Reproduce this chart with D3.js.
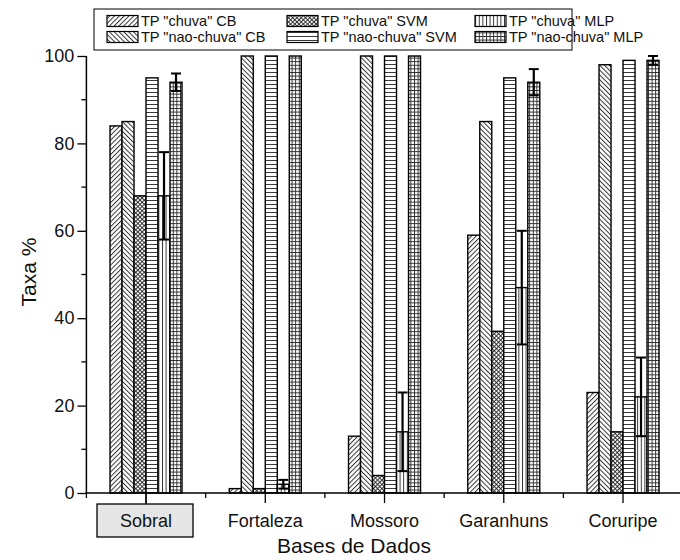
<!DOCTYPE html>
<html>
<head>
<meta charset="utf-8">
<script src="https://cdn.jsdelivr.net/npm/d3@7"></script>
<style>
  body { margin: 0; background: #fff; }
  svg { display: block; font-family: "Liberation Sans", Arial, sans-serif; }
</style>
</head>
<body>
<svg id="chart" width="680" height="560"></svg>
<script>
// data
var categories = ['Sobral', 'Fortaleza', 'Mossoro', 'Garanhuns', 'Coruripe'];
var seriesNames = ['TP "chuva" CB', 'TP "nao-chuva" CB', 'TP "chuva" SVM', 'TP "nao-chuva" SVM', 'TP "chuva" MLP', 'TP "nao-chuva" MLP'];
var chuvaCB = [84, 1, 13, 59, 23];
var naoChuvaCB = [85, 100, 100, 85, 98];
var chuvaSVM = [68, 1, 4, 37, 14];
var naoChuvaSVM = [95, 100, 100, 95, 99];
var chuvaMLP = [68, 2, 14, 47, 22];
var chuvaMLPErr = [10, 1, 9, 13, 9];
var naoChuvaMLP = [94, 100, 100, 94, 99];
var naoChuvaMLPErr = [2, 0, 0, 3, 1];
var yTicks = [0, 20, 40, 60, 80, 100];
var yMinorTicks = [10, 30, 50, 70, 90];

var seriesValues = [chuvaCB, naoChuvaCB, chuvaSVM, naoChuvaSVM, chuvaMLP, naoChuvaMLP];
var seriesErrors = [null, null, null, null, chuvaMLPErr, naoChuvaMLPErr];
var patternIds = ['p-fwd', 'p-back', 'p-cross', 'p-horiz', 'p-vert', 'p-grid'];

var svg = d3.select('#chart');

var x0 = d3.scaleBand().domain(categories).range([86.4, 86.4 + 5 * 119.25]).padding(0);
var groupW = 72;
var x1 = d3.scaleBand().domain(seriesNames).range([0, groupW]).padding(0);
var y = d3.scaleLinear().domain([0, 100]).range([493, 56]);

// ---- hatch patterns
var defs = svg.append('defs');
var hatch = '#222';

function linePattern(id, size, rotate, lines){
	var p = defs.append('pattern')
		.attr('id', id)
		.attr('patternUnits', 'userSpaceOnUse')
		.attr('width', size)
		.attr('height', size);
	if (rotate) p.attr('patternTransform', 'rotate(' + rotate + ')');
	p.append('rect').attr('width', size).attr('height', size).attr('fill', '#fff');
	lines.forEach(function(l){
		p.append('line')
		 .attr('x1', l[0]).attr('y1', l[1]).attr('x2', l[2]).attr('y2', l[3])
		 .attr('stroke', hatch)
		 .attr('stroke-width', 0.9);
	});
}
linePattern('p-fwd', 3.4, 45, [[0.5, 0, 0.5, 3.4]]);
linePattern('p-back', 3.4, -45, [[0.5, 0, 0.5, 3.4]]);
linePattern('p-cross', 3, 45, [[0.5, 0, 0.5, 3], [0, 0.5, 3, 0.5]]);
linePattern('p-horiz', 4, 0, [[0, 0.5, 4, 0.5]]);
linePattern('p-vert', 3.6, 0, [[0.5, 0, 0.5, 3.6]]);
linePattern('p-grid', 3.6, 0, [[0.5, 0, 0.5, 3.6], [0, 0.5, 3.6, 0.5]]);

// ---- bars
var bars = svg.append('g').attr('class', 'bars');
categories.forEach(function(cat, ci){
	var gx = x0(cat) + x0.bandwidth() / 2 - groupW / 2;
	seriesNames.forEach(function(s, si){
		var v = seriesValues[si][ci];
		bars.append('rect')
			.attr('x', gx + x1(s))
			.attr('y', y(v))
			.attr('width', x1.bandwidth())
			.attr('height', y(0) - y(v))
			.attr('fill', 'url(#' + patternIds[si] + ')')
			.attr('stroke', '#000')
			.attr('stroke-width', 1.4);
	});
});

// ---- error bars
var errs = svg.append('g').attr('class', 'errors');
categories.forEach(function(cat, ci){
	var gx = x0(cat) + x0.bandwidth() / 2 - groupW / 2;
	seriesNames.forEach(function(s, si){
		var e = seriesErrors[si];
		if (!e || !e[ci]) return;
		var v = seriesValues[si][ci];
		var cx = gx + x1(s) + x1.bandwidth() / 2;
		var hw = x1.bandwidth() / 2 - 1;
		var yt = y(v + e[ci]);
		var yb = y(v - e[ci]);
		errs.append('line').attr('x1', cx).attr('x2', cx).attr('y1', yt).attr('y2', yb)
			.attr('stroke', '#000').attr('stroke-width', 2.2);
		[yt, yb].forEach(function(yy){
			errs.append('line').attr('x1', cx - hw).attr('x2', cx + hw).attr('y1', yy).attr('y2', yy)
				.attr('stroke', '#000').attr('stroke-width', 2);
		});
	});
});

// ---- y axis
var yAxis = svg.append('g').attr('transform', 'translate(86.4,0)');
yAxis.call(d3.axisLeft(y).tickValues(yTicks).tickSize(9).tickPadding(3).tickFormat(d3.format('d')));
yAxis.select('.domain').remove();
yAxis.append('line').attr('x1', 0).attr('x2', 0).attr('y1', y(0)).attr('y2', y(100))
	.attr('stroke', '#000').attr('stroke-width', 1.5);
yAxis.selectAll('.tick line').attr('stroke', '#000').attr('stroke-width', 1.3);
yAxis.selectAll('.tick text').attr('font-size', 18).attr('fill', '#111')
	.style('font-family', '"Liberation Sans", Arial, sans-serif');
yMinorTicks.forEach(function(t){
	yAxis.append('line').attr('x1', -5).attr('x2', 0).attr('y1', y(t)).attr('y2', y(t))
		.attr('stroke', '#000').attr('stroke-width', 1.3);
});

// ---- x axis
var xAxis = svg.append('g');
xAxis.append('line').attr('x1', 85.7).attr('x2', 690).attr('y1', y(0)).attr('y2', y(0))
	.attr('stroke', '#000').attr('stroke-width', 1.5);
categories.forEach(function(cat){
	var cx = x0(cat) + x0.bandwidth() / 2;
	xAxis.append('line').attr('x1', cx).attr('x2', cx).attr('y1', y(0)).attr('y2', y(0) + 10)
		.attr('stroke', '#000').attr('stroke-width', 1.3);
	xAxis.append('line').attr('x1', x0(cat)).attr('x2', x0(cat)).attr('y1', y(0)).attr('y2', y(0) + 5)
		.attr('stroke', '#000').attr('stroke-width', 1.3);
});
var lastEdge = x0(categories[categories.length - 1]) + x0.bandwidth();
xAxis.append('line').attr('x1', lastEdge).attr('x2', lastEdge).attr('y1', y(0)).attr('y2', y(0) + 5)
	.attr('stroke', '#000').attr('stroke-width', 1.3);

// highlighted first category label
var firstC = x0(categories[0]) + x0.bandwidth() / 2;
xAxis.append('rect')
	.attr('x', 97).attr('y', 504).attr('width', 96).attr('height', 33)
	.attr('fill', '#e6e6e6').attr('stroke', '#000').attr('stroke-width', 1.3);
xAxis.append('line').attr('x1', firstC).attr('x2', firstC).attr('y1', y(0)).attr('y2', 504)
	.attr('stroke', '#000').attr('stroke-width', 1.3);

categories.forEach(function(cat){
	xAxis.append('text')
		.attr('x', x0(cat) + x0.bandwidth() / 2)
		.attr('y', 527)
		.attr('text-anchor', 'middle')
		.attr('font-size', 18)
		.attr('fill', '#111')
		.text(cat);
});

// ---- axis titles
svg.append('text')
	.attr('x', 354).attr('y', 553)
	.attr('text-anchor', 'middle')
	.attr('font-size', 21)
	.attr('fill', '#111')
	.text('Bases de Dados');

svg.append('text')
	.attr('transform', 'translate(36,272) rotate(-90)')
	.attr('text-anchor', 'middle')
	.attr('font-size', 21)
	.attr('fill', '#111')
	.text('Taxa %');

// ---- legend
var legend = svg.append('g').attr('class', 'legend');
legend.append('rect')
	.attr('x', 94).attr('y', 9).attr('width', 478).attr('height', 41)
	.attr('fill', '#fff').attr('stroke', '#000').attr('stroke-width', 1);
var colX = [107, 287, 475];
var rowY = [21, 37];
seriesNames.forEach(function(s, si){
	var col = Math.floor(si / 2), row = si % 2;
	legend.append('rect')
		.attr('x', colX[col]).attr('y', rowY[row] - 5.5)
		.attr('width', 31).attr('height', 11)
		.attr('fill', 'url(#' + patternIds[si] + ')')
		.attr('stroke', '#000').attr('stroke-width', 1.2);
	legend.append('text')
		.attr('x', colX[col] + 34).attr('y', rowY[row] + 5)
		.attr('font-size', 14.5)
		.attr('fill', '#111')
		.text(s);
});
</script>
</body>
</html>
